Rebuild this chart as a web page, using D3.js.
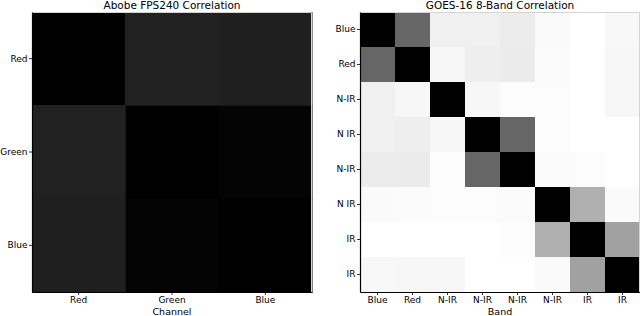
<!DOCTYPE html>
<html>
<head>
<meta charset="utf-8">
<script src="https://cdn.jsdelivr.net/npm/d3@7"></script>
<style>
  body { margin: 0; background: #fff; }
  svg { display: block; font-family: "DejaVu Sans", sans-serif; }
</style>
</head>
<body>
<svg id="chart" width="640" height="316"></svg>
<script>
// left: camera channels
var channels = ["Red", "Green", "Blue"];
var channelCorr = [
  [1.00, 0.87, 0.88],
  [0.87, 1.00, 0.985],
  [0.88, 0.985, 1.00]
];

// right: satellite bands
var bands = ["Blue", "Red", "N-IR", "N IR", "N-IR", "N IR", "IR", "IR"];
var bandLabelsX = ["Blue", "Red", "N-IR", "N-IR", "N-IR", "N-IR", "IR", "IR"];
var bandCorr = [
  [1.00, 0.60, 0.06, 0.06, 0.075, 0.02, 0.00, 0.027],
  [0.60, 1.00, 0.03, 0.067, 0.08, 0.015, 0.00, 0.035],
  [0.06, 0.03, 1.00, 0.03, 0.01, 0.01, 0.00, 0.035],
  [0.06, 0.067, 0.03, 1.00, 0.60, 0.01, 0.00, 0.00],
  [0.075, 0.08, 0.01, 0.60, 1.00, 0.015, 0.01, 0.00],
  [0.02, 0.015, 0.01, 0.01, 0.015, 1.00, 0.31, 0.02],
  [0.00, 0.00, 0.00, 0.00, 0.01, 0.31, 1.00, 0.37],
  [0.027, 0.035, 0.035, 0.00, 0.00, 0.02, 0.37, 1.00]
];

var svg = d3.select("#chart");
var color = d3.scaleLinear().domain([0, 1]).range(["#ffffff", "#000000"]);

function heatmap(opts) {
  var g = svg.append("g").attr("transform", "translate(" + opts.x + "," + opts.y + ")");
  var size = opts.size;
  var idx = d3.range(opts.rowLabels.length);
  var sx = d3.scaleBand().domain(idx).range([0, size]);
  var sy = d3.scaleBand().domain(idx).range([0, size]);

  var cells = [];
  opts.matrix.forEach(function(row, i) {
    row.forEach(function(v, j) { cells.push({ r: i, c: j, v: v }); });
  });

  g.selectAll("rect.cell")
    .data(cells)
    .enter()
    .append("rect")
      .attr("class", "cell")
      .attr("x", function(d) { return sx(d.c); })
      .attr("y", function(d) { return sy(d.r); })
      .attr("width", sx.bandwidth() + 0.5)
      .attr("height", sy.bandwidth() + 0.5)
      .attr("fill", function(d) { return color(d.v); });

  // faint frame top/right
  g.append("path")
    .attr("d", "M0,0.5H" + (size - 0.5) + "V" + size)
    .attr("fill", "none").attr("stroke", "#d4d4d4").attr("stroke-width", 1);

  var yAxis = g.append("g")
    .call(d3.axisLeft(sy).tickSize(3).tickSizeOuter(0).tickPadding(1.5)
      .tickFormat(function(i) { return opts.rowLabels[i]; }));
  var xAxis = g.append("g")
    .attr("transform", "translate(0," + size + ")")
    .call(d3.axisBottom(sx).tickSize(3).tickSizeOuter(0).tickPadding(2)
      .tickFormat(function(i) { return opts.colLabels[i]; }));

  [yAxis, xAxis].forEach(function(a) {
    a.select(".domain").attr("stroke", "#000").attr("stroke-width", 1.2);
    a.selectAll(".tick line").attr("stroke", "#000").attr("stroke-width", 0.8);
    a.selectAll(".tick text").attr("fill", "#000").style("font-size", "9px")
      .style("font-family", "DejaVu Sans, sans-serif");
  });

  g.append("text")
    .attr("x", size / 2).attr("y", -3)
    .attr("text-anchor", "middle")
    .style("font-size", "10.5px")
    .text(opts.title);

  g.append("text")
    .attr("x", size / 2).attr("y", size + 22.5)
    .attr("text-anchor", "middle")
    .style("font-size", "9.5px")
    .text(opts.xLabel);
}

heatmap({
  x: 32, y: 12, size: 280,
  matrix: channelCorr,
  rowLabels: channels, colLabels: channels,
  title: "Abobe FPS240 Correlation", xLabel: "Channel"
});

heatmap({
  x: 360, y: 12, size: 280,
  matrix: bandCorr,
  rowLabels: bands, colLabels: bandLabelsX,
  title: "GOES-16 8-Band Correlation", xLabel: "Band"
});
</script>
</body>
</html>
